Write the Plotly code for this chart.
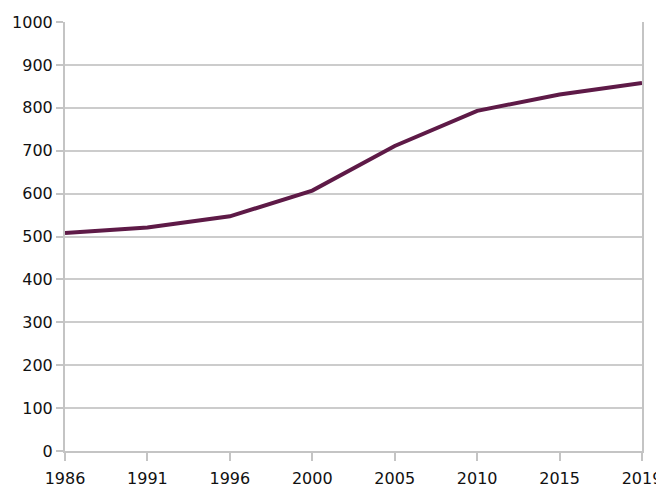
import plotly.graph_objects as go

years = ["1986", "1991", "1996", "2000", "2005", "2010", "2015", "2019"]
values = [508, 521, 547, 607, 711, 793, 831, 858]
y_ticks = [0, 100, 200, 300, 400, 500, 600, 700, 800, 900, 1000]

x_idx = list(range(len(years)))

fig = go.Figure()
fig.add_trace(go.Scatter(
    x=x_idx, y=values, mode="lines",
    line=dict(color="#5e1a47", width=4),
    hoverinfo="skip",
))

font = dict(family="'DejaVu Sans', sans-serif", size=16, color="#111111")
# page body has an 8px margin; figure sized so it fits the 664x488 window
fig.update_layout(
    width=656, height=480,
    margin=dict(l=57, r=22, t=14, b=37, autoexpand=False),
    plot_bgcolor="white", paper_bgcolor="white",
    showlegend=False,
    font=font,
)
fig.update_xaxes(
    range=[0, len(years) - 1], automargin=False,
    tickmode="array", tickvals=x_idx, ticktext=years,
    showgrid=False, zeroline=False,
    showline=True, linecolor="#c4c4c4", linewidth=2,
    ticks="outside", ticklen=8, tickcolor="#c4c4c4", tickwidth=2,
    ticklabelstandoff=4,
    tickfont=font,
)
fig.update_yaxes(
    range=[0, 1000], automargin=False,
    tickmode="array", tickvals=y_ticks,
    showgrid=True, gridcolor="#cccccc", gridwidth=1.5,
    zeroline=False,
    showline=True, linecolor="#c4c4c4", linewidth=2, mirror=True,
    ticks="outside", ticklen=7, tickcolor="#c4c4c4", tickwidth=2,
    tickfont=font,
)

fig.write_html("out.html")
